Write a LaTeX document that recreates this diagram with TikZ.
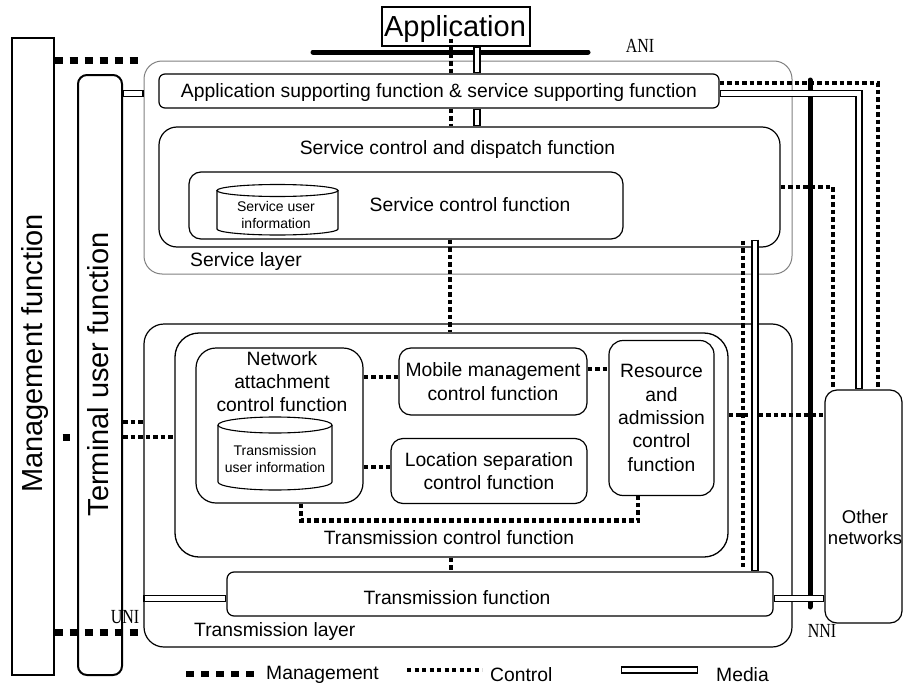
\documentclass[tikz,border=0pt]{standalone}
\usepackage{fontspec}
\setmainfont{Liberation Sans}
\newfontfamily\ifacefont{Liberation Serif}
\usetikzlibrary{calc}
\newcommand\mediadraw[1]{%
  \draw[line width=7.2pt] #1;
  \draw[white,line width=4.6pt,shorten <=1.3pt,shorten >=1.3pt] #1;}
\begin{document}
\begin{tikzpicture}[x=1pt,y=-1pt,
  lbl/.style={font=\fontsize{19.3}{23.3}\selectfont,inner sep=0pt,align=center},
  small/.style={font=\fontsize{14}{17.5}\selectfont,inner sep=0pt,align=center},
  big/.style={font=\fontsize{29}{34}\selectfont,inner sep=0pt},
  iface/.style={font=\ifacefont\fontsize{20}{22}\selectfont,inner sep=0pt},
  fbox/.style={draw,line width=1.2pt,rounded corners=#1,inner sep=0pt},
  mgmt/.style={line width=7pt,dash pattern=on 8pt off 7pt},
  ctrl/.style={line width=4.5pt,dash pattern=on 4.5pt off 3pt},
  bar/.style={line width=5pt,line cap=round},
  cyl/.style={line width=1.1pt}
]
\useasboundingbox (0,0) rectangle (903,688);

% management and terminal
\node[draw,line width=1.2pt,minimum width=42pt,minimum height=637pt,inner sep=0pt] (mgmt) at (33,356.5) {};
\node[big,rotate=90,anchor=base] (mgmtlbl) at (42,353.5) {Management function};
\node[fbox=9pt,line width=2pt,minimum width=44pt,minimum height=600pt] (term) at (100,375) {};
\node[big,rotate=90,anchor=base] (termlbl) at (108,374.5) {Terminal user function};

% service layer
\node[fbox=18pt,draw=black!50,line width=1pt,minimum width=648pt,minimum height=213pt] (svclayer) at (468,167.5) {};
\node[lbl,anchor=west] (svclbl) at (190,262) {Service layer};
\node[draw,line width=1.2pt,minimum width=148pt,minimum height=39pt,inner sep=0pt] (app) at (456,26.5) {};
\node[big] (applbl) at (455,29) {Application};
\node[fbox=6pt,minimum width=560pt,minimum height=34pt] (appsup) at (439,91) {};
\node[lbl] (appsuplbl) at (439,93) {Application supporting function \& service supporting function};
\node[fbox=18pt,minimum width=621pt,minimum height=120pt] (scd) at (469.5,187) {};
\node[lbl] (scdlbl) at (457.5,150) {Service control and dispatch function};
\node[fbox=12pt,minimum width=434pt,minimum height=67pt] (scf) at (406,205.5) {};
\node[lbl] (scflbl) at (470,205) {Service control function};
\draw[cyl] (217,190.5) -- (217,229) arc[start angle=180,end angle=360,x radius=60.5pt,y radius=6pt] -- (338,190.5);
\draw[cyl] (277.5,190.5) ellipse [x radius=60.5pt,y radius=6pt];
\node[small] (suilbl) at (276,215) {Service user\\information};

% transmission layer
\node[fbox=20pt,minimum width=648pt,minimum height=323pt] (translayer) at (468,485.5) {};
\node[lbl,anchor=west] (tllbl) at (194,632) {Transmission layer};
\node[fbox=24pt,line width=1.3pt,minimum width=553pt,minimum height=224pt] (tcf) at (451.5,445) {};
\node[lbl] (tcflbl) at (449,538) {Transmission control function};
\node[fbox=20pt,minimum width=167pt,minimum height=155pt] (na) at (279.5,425.5) {};
\node[lbl] (nalbl) at (282,381.5) {Network\\attachment\\control function};
\draw[cyl] (218,425) -- (218,482) arc[start angle=180,end angle=360,x radius=57pt,y radius=8pt] -- (332,425);
\draw[cyl] (275,425) ellipse [x radius=57pt,y radius=8pt];
\node[small] (tuilbl) at (275,459) {Transmission\\user information};
\node[fbox=12pt,lbl,minimum width=188pt,minimum height=67pt] (mm) at (493,381.5) {Mobile management\\control function};
\node[fbox=12pt,lbl,minimum width=196pt,minimum height=65pt] (ls) at (489,471) {Location separation\\control function};
\node[fbox=14pt,lbl,minimum width=105pt,minimum height=155pt] (rac) at (661.5,418) {Resource\\and\\admission\\control\\function};
\node[fbox=7pt,minimum width=546pt,minimum height=44pt] (tf) at (500,594) {};
\node[lbl] (tflbl) at (457,598) {Transmission function};

% other networks
\node[fbox=12pt,minimum width=77pt,minimum height=233pt] (other) at (863.5,506.5) {};
\node[font=\fontsize{18.5}{21.5}\selectfont,inner sep=0pt,align=center] (otherlbl) at (865,527.5) {Other\\networks};

% interfaces
\coordinate (anil) at (313,52);
\coordinate (anir) at (588,52);
\draw[bar] (anil) -- (anir);
\coordinate (nnit) at (810,80);
\coordinate (nnib) at (810,607);
\draw[bar] (nnit) -- (nnib);
\node[iface] (ani) at (640,46) {\scalebox{0.8}[1]{ANI}};
\node[iface] (nni) at (822,631) {\scalebox{0.8}[1]{NNI}};
\node[iface] (uni) at (125,617) {\scalebox{0.8}[1]{UNI}};

% management connectors
\draw[mgmt] (mgmt.east |- 0,60) -- (svclayer.west |- 0,60);
\draw[mgmt] (mgmt.east |- 0,632) -- (translayer.west |- 0,632);
\draw[mgmt,dash pattern=on 0pt off 8pt on 7pt off 40pt] (mgmt.east |- 0,437) -- (term.west |- 0,437);

% control connectors
\draw[ctrl] ($(app.south -| 451,0)+(0,-8)$) -- (appsup.north -| 451,0);
\draw[ctrl] (appsup.south -| 451,0) -- (scd.north -| 451,0);
\draw[ctrl] (scf.south -| 450,0) -- (tcf.north -| 450,0);
\draw[ctrl] (tcf.south -| 451,0) -- (tf.north -| 451,0);
\draw[ctrl] (appsup.east |- 0,83) -| (other.north -| 878,0);
\draw[ctrl] (scd.east |- 0,187) -| (other.north -| 833,0);
\draw[ctrl] (tcf.east |- 0,415) -- (other.west |- 0,415);
\draw[ctrl] ($(scd.south -| 743,0)+(0,-7)$) -- ($(tf.north -| 743,0)+(0,-4)$);
\draw[ctrl] (term.east |- 0,422) -- (translayer.west |- 0,422);
\draw[ctrl] (term.east |- 0,437) -- (tcf.west |- 0,437);
\draw[ctrl] (na.east |- 0,377) -- (mm.west |- 0,377);
\draw[ctrl] (na.east |- 0,467) -- (ls.west |- 0,467);
\draw[ctrl] (mm.east |- 0,369) -- (rac.west |- 0,369);
\draw[ctrl] (na.south -| 301,0) -- ++(0,17) -| (rac.south -| 638,0);

% media connectors
\mediadraw{(app.south -| 477,0) -- (appsup.north -| 477,0)}
\mediadraw{(appsup.south -| 477,0) -- (scd.north -| 477,0)}
\mediadraw{(term.east |- 0,93.5) -- (svclayer.west |- 0,93.5)}
\mediadraw{(appsup.east |- 0,93.5) -| (other.north -| 859,0)}
\mediadraw{($(scd.south -| 755,0)+(0,-8)$) -- (tf.north -| 755,0)}
\mediadraw{(tf.east |- 0,598.5) -- (other.west |- 0,598.5)}
\mediadraw{(translayer.west |- 0,598.5) -- (tf.west |- 0,598.5)}

% legend
\coordinate (lgm1) at (186,674);
\coordinate (lgm2) at (254,674);
\draw[mgmt,line width=6.5pt] (lgm1) -- (lgm2);
\node[lbl,anchor=west] (lgmlbl) at (266,675) {Management};
\coordinate (lgc1) at (407,670);
\coordinate (lgc2) at (482,670);
\draw[ctrl,line width=3.5pt,dash pattern=on 4pt off 3.5pt] (lgc1) -- (lgc2);
\node[lbl,anchor=west] (lgclbl) at (490,675) {Control};
\coordinate (lgd1) at (621,670);
\coordinate (lgd2) at (698,670);
\mediadraw{(lgd1) -- (lgd2)}
\node[lbl,anchor=west] (lgdlbl) at (716,675) {Media};
\end{tikzpicture}
\end{document}
